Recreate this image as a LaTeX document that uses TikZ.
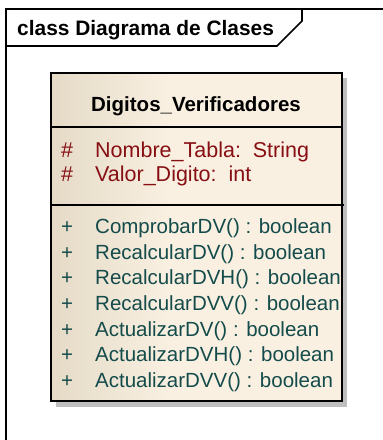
\documentclass[tikz,border=0pt]{standalone}
\usepackage{fontspec}
\setmainfont{Liberation Sans}
\definecolor{attrred}{RGB}{135,15,20}
\definecolor{opteal}{RGB}{20,75,75}
\definecolor{tanleft}{RGB}{228,218,198}
\definecolor{cream}{RGB}{250,240,226}
\definecolor{shadowgrey}{RGB}{190,190,190}
\tikzset{
  framestyle/.style={line width=1.6pt, draw=black},
  boxborder/.style={line width=1.7pt, draw=black},
  sepline/.style={line width=1.1pt, draw=black},
  hdrtext/.style={anchor=base west, inner sep=0pt, font=\fontsize{20.9}{24}\selectfont\bfseries},
  titletext/.style={anchor=base, inner sep=0pt, font=\fontsize{20.5}{24}\selectfont\bfseries},
  attrtext/.style={anchor=base west, inner sep=0pt, text=attrred, font=\fontsize{21.5}{24}\selectfont},
  optext/.style={anchor=base west, inner sep=0pt, text=opteal, font=\fontsize{20.5}{24}\selectfont},
}
\begin{document}
\begin{tikzpicture}[x=1pt,y=-1pt]
\useasboundingbox (0,0) rectangle (383,440);
% frame
\draw[framestyle] (383,9) -- (6,9) -- (6,440);
\draw[framestyle] (6,46) -- (277,46) -- (302,21) -- (302,9);
\node[hdrtext] (hdr) at (17,35) {class Diagrama de Clases};
% class shadow
\fill[shadowgrey] (56,78) rectangle (347,407);
% class body
\fill[cream] (51,73) rectangle (342,401);
\shade[left color=tanleft, right color=cream] (51,73) rectangle (170,401);
\draw[boxborder] (51,73) rectangle (342,401);
\draw[sepline] (51,127) -- (342,127);
\draw[sepline] (51,205) -- (344,205);
\node[titletext] (title) at (196,111) {Digitos\_Verificadores};
% attributes
\node[attrtext] (a1v) at (61,157) {\#};
\node[attrtext] (a1) at (95,157) {Nombre\_Tabla:\ \ String};
\node[attrtext] (a2v) at (61,181) {\#};
\node[attrtext] (a2) at (95,181) {Valor\_Digito:\ \ int};
% operations
\node[optext] (o1v) at (61,233) {+};
\node[optext] (o1) at (95,233) {ComprobarDV() : boolean};
\node[optext] (o2v) at (61,259) {+};
\node[optext] (o2) at (95,259) {RecalcularDV() : boolean};
\node[optext] (o3v) at (61,284) {+};
\node[optext] (o3) at (95,284) {RecalcularDVH() : boolean};
\node[optext] (o4v) at (61,310) {+};
\node[optext] (o4) at (95,310) {RecalcularDVV() : boolean};
\node[optext] (o5v) at (61,336) {+};
\node[optext] (o5) at (95,336) {ActualizarDV() : boolean};
\node[optext] (o6v) at (61,361) {+};
\node[optext] (o6) at (95,361) {ActualizarDVH() : boolean};
\node[optext] (o7v) at (61,387) {+};
\node[optext] (o7) at (95,387) {ActualizarDVV() : boolean};
\end{tikzpicture}
\end{document}
